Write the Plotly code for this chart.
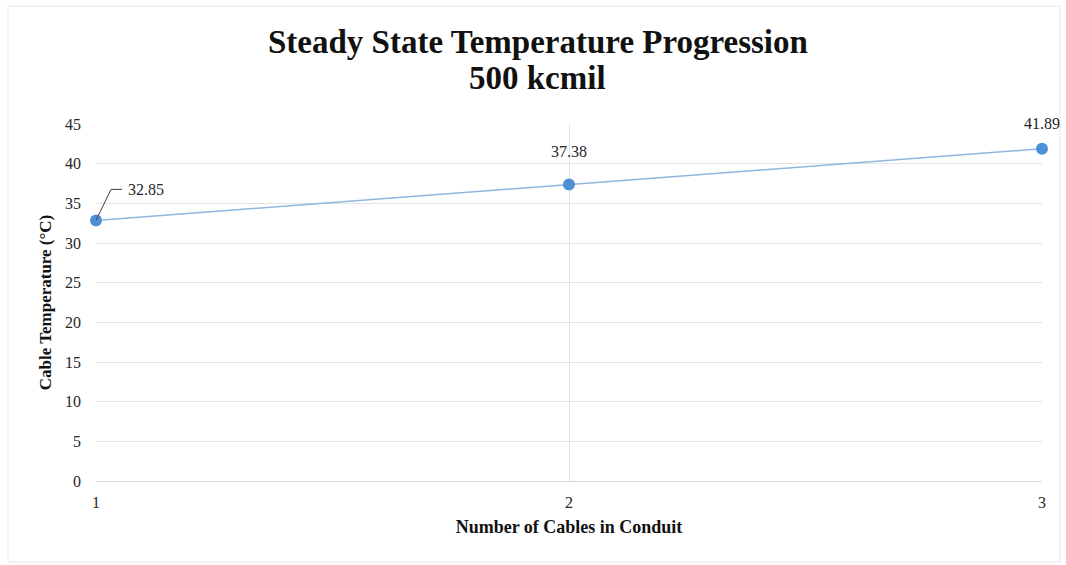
import plotly.graph_objects as go

# Steady-state cable temperature vs. number of cables in conduit (500 kcmil)
cables = [1, 2, 3]
temperature = [32.85, 37.38, 41.89]
labels = ["32.85", "37.38", "41.89"]
y_ticks = [0, 5, 10, 15, 20, 25, 30, 35, 40, 45]

serif = "Liberation Serif, Times New Roman, serif"
dark = "#262626"

fig = go.Figure()
fig.add_trace(go.Scatter(
    x=cables, y=temperature, mode="lines+markers",
    line=dict(color="#8fb6e0", width=1.5),
    marker=dict(color="#4e90d6", size=12),
    cliponaxis=False, hoverinfo="x+y", showlegend=False,
))

# First data label sits up and to the right, joined by a bent leader line
fig.add_annotation(x=cables[0], y=temperature[0], text=labels[0], showarrow=False,
                   xanchor="left", yanchor="middle", xshift=30, yshift=31,
                   font=dict(family=serif, size=16, color=dark))
# Remaining labels centred above their points
for xv, yv, lab, shift in zip(cables[1:], temperature[1:], labels[1:], [22, 15]):
    fig.add_annotation(x=xv, y=yv, text=lab, showarrow=False, yanchor="bottom",
                       yshift=shift, font=dict(family=serif, size=16, color=dark))

# Two-line chart title, centred on the page
for text, ypos in [("Steady State Temperature Progression", 1.2297), ("500 kcmil", 1.1289)]:
    fig.add_annotation(xref="paper", yref="paper", x=0.467, y=ypos, text=f"<b>{text}</b>",
                       showarrow=False, yanchor="middle",
                       font=dict(family=serif, size=33, color="#111111"))

# Light frame around the whole chart area
fig.add_shape(type="rect", xref="paper", yref="paper",
              x0=-0.093, x1=1.019, y0=-0.227, y1=1.3305,
              line=dict(color="#e6e6e6", width=1), layer="below")
# Leader line from the first point to its label
fig.add_shape(type="path", xref="x", yref="y", xsizemode="pixel", ysizemode="pixel",
              xanchor=cables[0], yanchor=temperature[0],
              path="M 0 0 L 15 31 L 26 31", line=dict(color="#404040", width=1))

fig.update_layout(
    width=1066, height=565,
    margin=dict(l=96, r=24, t=124, b=84),
    paper_bgcolor="white", plot_bgcolor="white",
    xaxis=dict(range=[1, 3], tickvals=cables, ticktext=[str(c) for c in cables],
               showgrid=True, gridcolor="#e3e3e3", gridwidth=1, zeroline=False,
               showline=False, ticks="", ticklabelstandoff=10,
               tickfont=dict(family=serif, size=16, color=dark),
               title=dict(text="<b>Number of Cables in Conduit</b>", standoff=10,
                          font=dict(family=serif, size=18, color="#111111"))),
    yaxis=dict(range=[0, 45], tickvals=y_ticks, showgrid=True, gridcolor="#e3e3e3",
               gridwidth=1, zeroline=True, zerolinecolor="#d9d9d9", zerolinewidth=1,
               showline=False, ticks="", ticklabelstandoff=14,
               tickfont=dict(family=serif, size=16, color=dark),
               title=dict(text="<b>Cable Temperature (°C)</b>", standoff=9,
                          font=dict(family=serif, size=17, color="#111111"))),
)

fig.write_html("out.html")
